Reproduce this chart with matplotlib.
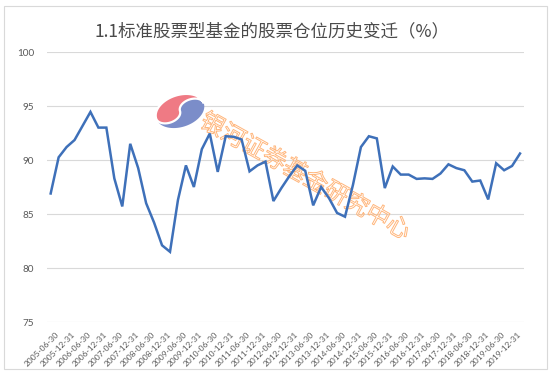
import numpy as np
import matplotlib
matplotlib.use("Agg")
import matplotlib.pyplot as plt
from matplotlib.transforms import Affine2D, ScaledTranslation
from matplotlib.patches import Polygon, Rectangle
import matplotlib.patheffects as pe

# ---------------- data ----------------
title = "1.1标准股票型基金的股票仓位历史变迁（%）"
watermark = "银河证券基金研究中心"

quarter_ends = []
for yr in range(2005, 2021):
    for md in ["03-31", "06-30", "09-30", "12-31"]:
        quarter_ends.append(f"{yr}-{md}")
categories = quarter_ends[1:61]          # 2005-06-30 ... 2020-03-31

stock_position = [
    86.9, 90.25, 91.2, 91.85, 93.15, 94.45, 93.0, 93.0, 88.3, 85.7,
    91.5, 89.25, 86.0, 84.2, 82.1, 81.5, 86.3, 89.5, 87.5, 91.0,
    92.45, 88.9, 92.2, 92.15, 91.9, 88.95, 89.5, 89.85, 86.2, 87.4,
    88.5, 89.5, 89.0, 85.8, 87.5, 86.45, 85.1, 84.75, 87.7, 91.2,
    92.2, 92.0, 87.4, 89.4, 88.65, 88.65, 88.25, 88.3, 88.25, 88.75,
    89.6, 89.25, 89.05, 88.0, 88.1, 86.35, 89.7, 89.05, 89.45, 90.6,
]
y_ticks = [75, 80, 85, 90, 95, 100]

# ---------------- figure ----------------
W, H = 550, 382
fig = plt.figure(figsize=(W / 100, H / 100), dpi=100)
fig.patch.set_facecolor("white")
# pixel transform (x right, y down)
T = Affine2D().scale(1 / W, -1 / H).translate(0, 1) + fig.transFigure

ax = fig.add_axes([46.7 / W, 1 - 322 / H, (524 - 46.7) / W, (322 - 52) / H])
ax.set_facecolor("none")

x = np.arange(len(categories))
ax.plot(x, stock_position, color="#3E70B9", lw=1.8, zorder=3,
        solid_joinstyle="miter")

ax.set_xlim(-0.5, len(categories) - 0.5)
ax.set_ylim(75, 100)
ax.set_yticks(y_ticks)
ax.set_yticklabels([str(v) for v in y_ticks])
ax.grid(axis="y", color="#D9D9D9", lw=0.8)
ax.set_axisbelow(True)
for s in ax.spines.values():
    s.set_visible(False)

ax.set_xticks([])
ax.tick_params(axis="y", length=0, pad=9, labelsize=7.2, labelcolor="#595959")
for lab in ax.get_yticklabels():
    lab.set_family("Lato")

# rotated category labels (every other category)
lab_tr = ax.get_xaxis_transform() + ScaledTranslation(0.075, -0.11,
                                                      fig.dpi_scale_trans)
for i in x[::2]:
    ax.text(i, 0, categories[i], transform=lab_tr, rotation=45,
            ha="right", va="center", rotation_mode="anchor",
            fontsize=6.0, color="#595959", family="Lato", clip_on=False)

# title
fig.text(272 / W, 1 - 31 / H, title, ha="center", va="center",
         fontsize=12.6, color="#4A4A4A",
         family=["Noto Sans CJK SC", "DejaVu Sans"])

# chart border
fig.patches.append(Rectangle((4, 6), 543, 363, transform=T, fill=False,
                             edgecolor="#D9D9D9", lw=0.8))

# ---------------- watermark logo ----------------
def arc(cx, cy, r, a0, a1, n=60):
    t = np.radians(np.linspace(a0, a1, n))
    return np.c_[cx + r * np.cos(t), cy + r * np.sin(t)]

outer = arc(0, 0, 1, 0, 360, 160)
red_u = np.vstack([arc(0, 0, 1, 180, 0, 90),
                   arc(0.5, 0, 0.5, 0, 180, 50),
                   arc(-0.5, 0, 0.5, 0, -180, 50)])

def to_px(pts, cx=180, cy=111, a=25, b=16, ang=18):
    X, Y = a * pts[:, 0], b * pts[:, 1]
    t = np.radians(ang)
    Xr = X * np.cos(t) - Y * np.sin(t)
    Yr = X * np.sin(t) + Y * np.cos(t)
    return np.c_[cx + Xr, cy - Yr]

ax.add_patch(Polygon(to_px(outer), closed=True, transform=T, clip_on=False,
                     facecolor="#7B8DC9", edgecolor="none", zorder=1.5))
ax.add_patch(Polygon(to_px(red_u), closed=True, transform=T, clip_on=False,
                     facecolor="#EF7A84", edgecolor="white", lw=1.6,
                     zorder=1.6))

# watermark text
ax.text(305, 177, watermark, transform=T, rotation=-29, ha="center",
        va="center", rotation_mode="anchor", fontsize=17, color="none",
        family=["Noto Sans CJK SC", "DejaVu Sans"], zorder=2, clip_on=False,
        path_effects=[pe.Stroke(linewidth=0.7, foreground="#FFB57A")])

fig.savefig("out.png", dpi=100, facecolor="white")
